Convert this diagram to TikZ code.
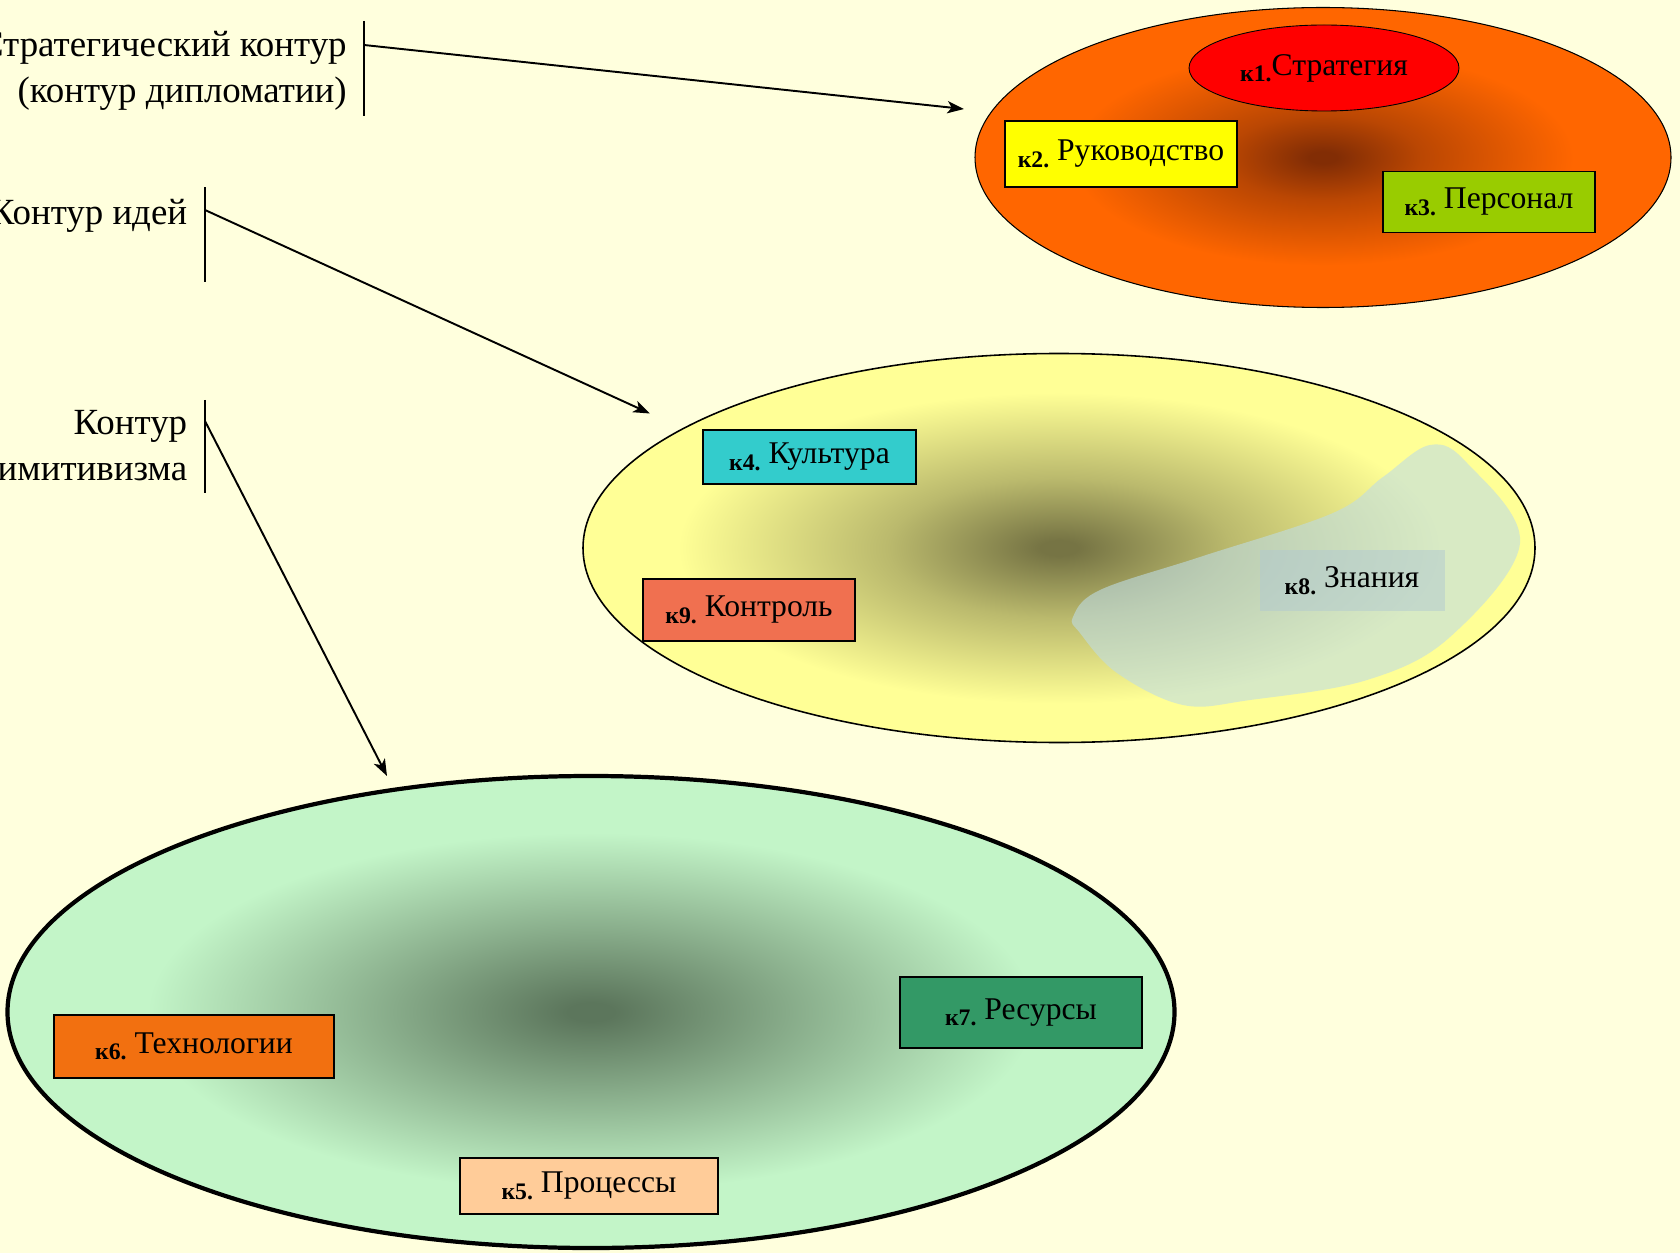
\documentclass[tikz,border=0pt]{standalone}
\usepackage{fontspec}
\setmainfont{Liberation Serif}
\usetikzlibrary{shapes.geometric, arrows.meta}
\definecolor{bgc}{RGB}{255,255,221}
\definecolor{topout}{RGB}{255,102,0}
\definecolor{topin}{RGB}{130,45,5}
\definecolor{midout}{RGB}{255,255,150}
\definecolor{midin}{RGB}{118,116,68}
\definecolor{botout}{RGB}{195,245,200}
\definecolor{botin}{RGB}{92,118,92}
\definecolor{stratc}{RGB}{255,0,0}
\definecolor{leadc}{RGB}{255,255,0}
\definecolor{staffc}{RGB}{153,204,0}
\definecolor{cultc}{RGB}{51,204,204}
\definecolor{ctrlc}{RGB}{240,112,80}
\definecolor{knowc}{RGB}{190,220,228}
\definecolor{techc}{RGB}{242,112,16}
\definecolor{resc}{RGB}{51,153,102}
\definecolor{procc}{RGB}{255,204,153}
\pgfdeclareradialshading{glowtop}{\pgfpoint{0bp}{0bp}}{color(0bp)=(topin); color(1bp)=(topin); color(7bp)=(topin!55!topout); color(18bp)=(topout); color(50bp)=(topout)}
\pgfdeclareradialshading{glowmid}{\pgfpoint{0bp}{0bp}}{color(0bp)=(midin); color(1bp)=(midin); color(9bp)=(midin!50!midout); color(20bp)=(midout); color(50bp)=(midout)}
\pgfdeclareradialshading{glowbot}{\pgfpoint{0bp}{0bp}}{color(0bp)=(botin); color(1bp)=(botin); color(9bp)=(botin!55!botout); color(19bp)=(botout); color(50bp)=(botout)}
\newdimen\pxu \pxu=0.02cm
\newcommand{\knum}[1]{\raisebox{-0.45ex}{\fontsize{13.5}{14}\selectfont\bfseries к#1.}}

\begin{document}
\begin{tikzpicture}[x=0.02cm, y=-0.02cm,
  kbox/.style={draw=black, line width=1.1pt, inner sep=0pt, font=\fontsize{18}{21}\selectfont},
  lbl/.style={anchor=east, align=right, inner sep=0pt, font=\fontsize{21}{26}\selectfont},
  bar/.style={line width=1.2pt},
  link/.style={line width=1.1pt, -{Stealth[length=9.5pt, width=7pt, inset=2.5pt]}}]
  \useasboundingbox (0,0) rectangle (1680,1253);
  \clip (0,0) rectangle (1680,1253);
  \fill[bgc] (0,0) rectangle (1680,1253);

  % strategic contour
  \node[ellipse, draw, line width=0.6pt, shade, shading=glowtop, inner sep=0pt,
        minimum width=696\pxu, minimum height=300\pxu] (top) at (1323,157.5) {};
  \node[ellipse, draw, line width=0.5pt, fill=stratc, inner sep=0pt, font=\fontsize{18}{21}\selectfont,
        minimum width=270\pxu, minimum height=86\pxu] (strat) at (1324,68) {\knum{1}Стратегия};
  \node[kbox, fill=leadc, minimum width=232\pxu, minimum height=66\pxu] (lead) at (1121,154) {\knum{2} Руководство};
  \node[kbox, fill=staffc, minimum width=212\pxu, minimum height=61\pxu] (staff) at (1489,202) {\knum{3} Персонал};

  % contour of ideas
  \node[ellipse, shade, shading=glowmid, inner sep=0pt,
        minimum width=952\pxu, minimum height=389\pxu] (mid) at (1059,548) {};
  \fill[knowc, opacity=0.6] plot[smooth cycle, tension=0.6] coordinates {(1073,617) (1100,590) (1200,557) (1333,513) (1383,477) (1430,445) (1467,463) (1520,543) (1450,637) (1367,680) (1250,700) (1183,705) (1117,673) (1080,633)};
  \node[ellipse, draw, line width=0.9pt, inner sep=0pt,
        minimum width=952\pxu, minimum height=389\pxu] at (mid) {};
  \node[kbox, fill=cultc, minimum width=213\pxu, minimum height=54\pxu] (cult) at (809.5,457) {\knum{4} Культура};
  \node[kbox, fill=ctrlc, minimum width=212\pxu, minimum height=62\pxu] (ctrl) at (749,609.6) {\knum{9} Контроль};
  \node[kbox, draw=none, fill=knowc!80!gray, fill opacity=0.5, text opacity=1,
        minimum width=185\pxu, minimum height=61\pxu] (know) at (1352,580.5) {\knum{8} Знания};

  % contour of primitivism
  \node[ellipse, draw, line width=2.4pt, shade, shading=glowbot, inner sep=0pt,
        minimum width=1167\pxu, minimum height=472\pxu] (bot) at (591,1012) {};
  \node[kbox, fill=techc, minimum width=280\pxu, minimum height=63\pxu] (tech) at (194,1046.5) {\knum{6} Технологии};
  \node[kbox, fill=resc, minimum width=242\pxu, minimum height=71\pxu] (res) at (1021,1012.5) {\knum{7} Ресурсы};
  \node[kbox, fill=procc, minimum width=258\pxu, minimum height=56\pxu] (proc) at (589,1186) {\knum{5} Процессы};

  % labels with bars
  \node[lbl] (lblA) at (347,71) {Стратегический контур\\(контур дипломатии)};
  \node[lbl] (lblB) at (187.5,215.5) {Контур идей};
  \node[lbl] (lblC) at (187.5,449.5) {Контур\\примитивизма};
  \draw[bar] (364,21) -- (364,116);
  \draw[bar] (205,187.5) -- (205,282);
  \draw[bar] (205,400) -- (205,493);

  \coordinate (fromA) at (364,45);
  \coordinate (fromB) at (205,210);
  \coordinate (fromC) at (205,421);
  \coordinate (tipA) at (964,109);
  \coordinate (tipB) at (650,413.5);
  \coordinate (tipC) at (387,776);
  \draw[link] (fromA) -- (tipA);
  \draw[link] (fromB) -- (tipB);
  \draw[link] (fromC) -- (tipC);
\end{tikzpicture}
\end{document}
